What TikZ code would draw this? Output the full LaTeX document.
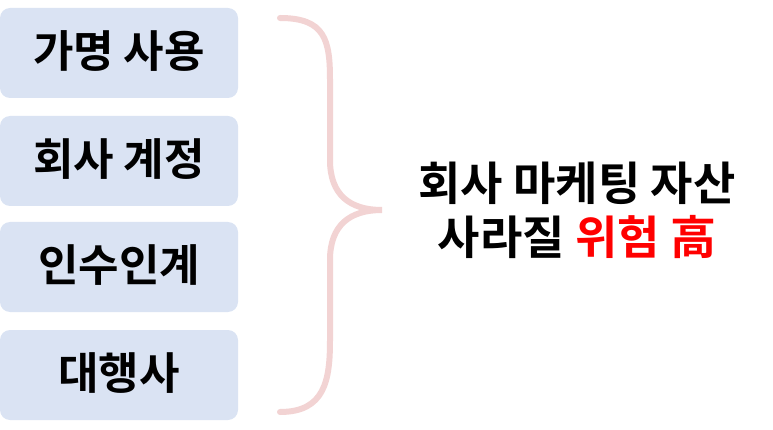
\documentclass[tikz,border=0pt]{standalone}
\usepackage{fontspec}
\setmainfont{Noto Sans CJK KR}[BoldFont={Noto Sans CJK KR Bold}]
\definecolor{boxblue}{HTML}{DAE3F3}
\definecolor{bracepink}{HTML}{F2D3D3}
\tikzset{
  itembox/.style={fill=boxblue, rounded corners=10pt, minimum width=238pt, minimum height=90pt, font=\bfseries\fontsize{44}{48}\selectfont, inner sep=0pt, text height=33pt, text depth=4pt},
  resulttext/.style={font=\bfseries\fontsize{46}{54}\selectfont, align=center}
}
\begin{document}
\begin{tikzpicture}[x=1pt,y=-1pt]
    \useasboundingbox (0,0) rectangle (773,430);

    % Items on the left
    \node[itembox] (alias) at (119,53) {가명 사용};
    \node[itembox] (account) at (119,161) {회사 계정};
    \node[itembox] (handover) at (119,267) {인수인계};
    \node[itembox] (agency) at (119,375) {대행사};

    % Brace
    \draw[bracepink, line width=6pt, line cap=round]
        (280,18) .. controls (325,18) and (330,40) .. (330,80)
        -- (330,160) .. controls (330,195) and (350,210) .. (382,210)
        .. controls (350,210) and (330,225) .. (330,260)
        -- (330,340) .. controls (330,380) and (325,412) .. (280,412);

    % Result
    \node[resulttext] (risk) at (577,210) {회사 마케팅 자산\\사라질 \textcolor{red}{위험 高}};
\end{tikzpicture}
\end{document}
